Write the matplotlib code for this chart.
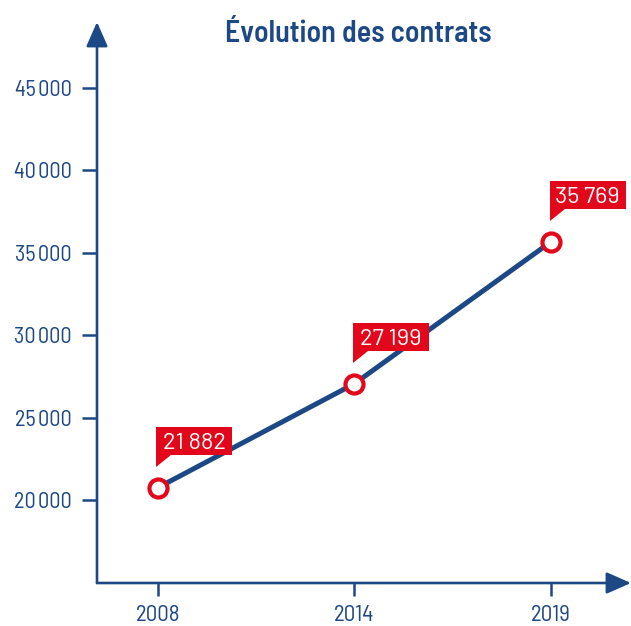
import matplotlib
matplotlib.use("Agg")
import matplotlib.pyplot as plt
from matplotlib.patches import Polygon
from matplotlib.transforms import ScaledTranslation

# data
years = ["2008", "2014", "2019"]
contracts = [20750, 27050, 35650]        # where the points sit on the axis
value_labels = ["21 882", "27 199", "35 769"]
y_ticks = [20000, 25000, 30000, 35000, 40000, 45000]

BLUE = "#1d4886"
RED = "#e2071a"
FONT = ["Barlow Semi Condensed", "DejaVu Sans"]

plt.rcParams["font.family"] = FONT

fig = plt.figure(figsize=(6.31, 6.26), dpi=100)
ax = fig.add_axes([97 / 631, 43 / 626, 534 / 631, 561 / 626])
ax.patch.set_alpha(0)

xs = list(range(len(years)))
ax.plot(xs, contracts, color=BLUE, lw=3.6, zorder=3, solid_capstyle="butt")
ax.plot(xs, contracts, ls="none", marker="o", ms=13, mfc="white",
        mec=RED, mew=3.0, zorder=4)

ax.set_xlim(-0.31, 2.407)
ax.set_ylim(14970, 48970)

# axes drawn as arrows
for s in ax.spines.values():
    s.set_visible(False)
arrow = dict(arrowstyle="-|>,head_length=0.75,head_width=0.33", color=BLUE,
             lw=1.9, shrinkA=0, shrinkB=0, mutation_scale=20)
ax.annotate("", xy=(0, 1), xytext=(0, 0), xycoords="axes fraction",
            arrowprops=arrow, zorder=2, annotation_clip=False)
ax.annotate("", xy=(1, 0), xytext=(0, 0), xycoords="axes fraction",
            arrowprops=arrow, zorder=2, annotation_clip=False)

ax.set_xticks(xs)
ax.set_xticklabels(years)
ax.set_yticks(y_ticks)
ax.set_yticklabels([f"{v // 1000}\u200a{v % 1000:03d}" for v in y_ticks])
ax.tick_params(axis="y", direction="out", length=10.8, width=1.8, color=BLUE,
               labelcolor=BLUE, labelsize=16, pad=7.5)
ax.tick_params(axis="x", direction="out", length=9.5, width=1.8, color=BLUE,
               labelcolor=BLUE, labelsize=16.5, pad=6)

# red callouts above each point (box + tail, sizes in inches)
bw, bb, bh, tip, tw = 0.76, 0.33, 0.28, 0.21, 0.15
for x, y, lab in zip(xs, contracts, value_labels):
    tr = fig.dpi_scale_trans + ScaledTranslation(x, y, ax.transData)
    left = -0.015
    shape = [(left, tip), (left, bb + bh), (left + bw, bb + bh),
             (left + bw, bb), (left + tw, bb)]
    ax.add_patch(Polygon(shape, closed=True, fc=RED, ec="none",
                         transform=tr, zorder=5, clip_on=False))
    ax.text(left + bw / 2, bb + bh / 2, lab, transform=tr, ha="center",
            va="center_baseline", color="white", fontsize=17,
            family=["Barlow", "DejaVu Sans"], zorder=6)

fig.text(358.5 / 631, 1 - 42 / 626, "Évolution des contrats", ha="center",
         va="baseline", color=BLUE, fontsize=21.5, fontweight=600)

fig.savefig("out.png", dpi=100)
